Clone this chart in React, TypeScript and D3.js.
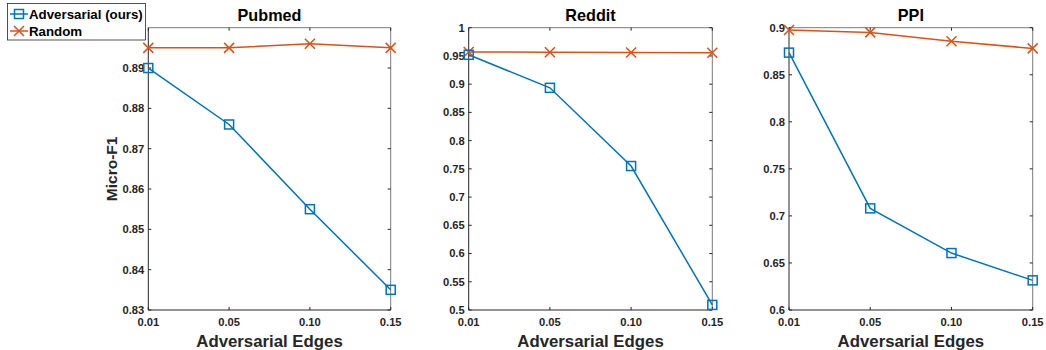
import React from "react";
import * as d3 from "d3";

const categories = ["0.01", "0.05", "0.10", "0.15"];
const seriesNames = ["Adversarial (ours)", "Random"];

const pubmedAdv = [0.89, 0.876, 0.855, 0.835];
const pubmedRand = [0.895, 0.895, 0.896, 0.895];
const pubmedTicks = [0.83, 0.84, 0.85, 0.86, 0.87, 0.88, 0.89];
const pubmedTickLabels = ["0.83", "0.84", "0.85", "0.86", "0.87", "0.88", "0.89"];

const redditAdv = [0.952, 0.8935, 0.755, 0.509];
const redditRand = [0.957, 0.9565, 0.956, 0.9555];
const redditTicks = [0.5, 0.55, 0.6, 0.65, 0.7, 0.75, 0.8, 0.85, 0.9, 0.95, 1];
const redditTickLabels = ["0.5", "0.55", "0.6", "0.65", "0.7", "0.75", "0.8", "0.85", "0.9", "0.95", "1"];

const ppiAdv = [0.8735, 0.708, 0.6605, 0.6315];
const ppiRand = [0.8975, 0.895, 0.8855, 0.878];
const ppiTicks = [0.6, 0.65, 0.7, 0.75, 0.8, 0.85, 0.9];
const ppiTickLabels = ["0.6", "0.65", "0.7", "0.75", "0.8", "0.85", "0.9"];

const BLUE = "#0072BD";
const ORANGE = "#D95319";
const AX = "#262626";
const FONT = "'Liberation Sans', Arial, Helvetica, sans-serif";

type Panel = {
  title: string;
  left: number;
  right: number;
  domain: [number, number];
  ticks: number[];
  tickLabels: string[];
  adv: number[];
  rand: number[];
  ylabel?: string;
};

const TOP = 27.7;
const BOTTOM = 310;

const panels: Panel[] = [
  { title: "Pubmed", left: 148.3, right: 390.7, domain: [0.83, 0.9], ticks: pubmedTicks, tickLabels: pubmedTickLabels, adv: pubmedAdv, rand: pubmedRand, ylabel: "Micro-F1" },
  { title: "Reddit", left: 468.7, right: 712.3, domain: [0.5, 1], ticks: redditTicks, tickLabels: redditTickLabels, adv: redditAdv, rand: redditRand },
  { title: "PPI", left: 789, right: 1032.7, domain: [0.6, 0.9], ticks: ppiTicks, tickLabels: ppiTickLabels, adv: ppiAdv, rand: ppiRand },
];

function Square({ x, y }: { x: number; y: number }) {
  const s = 9;
  return <rect x={x - s / 2} y={y - s / 2} width={s} height={s} fill="none" stroke={BLUE} strokeWidth={1.5} />;
}

function Cross({ x, y }: { x: number; y: number }) {
  const s = 5;
  return (
    <path d={`M${x - s},${y - s}L${x + s},${y + s}M${x - s},${y + s}L${x + s},${y - s}`} stroke={ORANGE} strokeWidth={1.5} fill="none" />
  );
}

function PanelView({ p }: { p: Panel }) {
  const x = d3.scalePoint<string>().domain(categories).range([p.left, p.right]);
  const y = d3.scaleLinear().domain(p.domain).range([BOTTOM, TOP]);
  const line = d3
    .line<number>()
    .x((_, i) => x(categories[i]) as number)
    .y((d) => y(d));
  const tl = 3;
  const cx = (p.left + p.right) / 2;
  return (
    <g>
      <rect x={p.left} y={TOP} width={p.right - p.left} height={BOTTOM - TOP} fill="#fff" />
      <line x1={p.left} x2={p.right} y1={TOP} y2={TOP} stroke="#7a7a7a" strokeWidth={1} />
      <line x1={p.right} x2={p.right} y1={TOP} y2={BOTTOM} stroke="#7a7a7a" strokeWidth={1} />
      <line x1={p.left} x2={p.right} y1={BOTTOM} y2={BOTTOM} stroke={AX} strokeWidth={1} />
      <line x1={p.left} x2={p.left} y1={TOP} y2={BOTTOM} stroke={AX} strokeWidth={1} />
      {p.ticks.map((t, i) => (
        <g key={"y" + i}>
          <line x1={p.left} x2={p.left + tl} y1={y(t)} y2={y(t)} stroke={AX} />
          <line x1={p.right} x2={p.right - tl} y1={y(t)} y2={y(t)} stroke={AX} />
          <text x={p.left - 4} y={y(t)} dy="0.35em" textAnchor="end" fontFamily={FONT} fontWeight="bold" fontSize={11.2} fill={AX}>
            {p.tickLabels[i]}
          </text>
        </g>
      ))}
      {categories.map((c) => (
        <g key={"x" + c}>
          <line x1={x(c)} x2={x(c)} y1={BOTTOM} y2={BOTTOM - tl} stroke={AX} />
          <line x1={x(c)} x2={x(c)} y1={TOP} y2={TOP + tl} stroke={AX} />
          <text x={x(c)} y={326} textAnchor="middle" fontFamily={FONT} fontWeight="bold" fontSize={11.2} fill={AX}>
            {c}
          </text>
        </g>
      ))}
      <text x={cx} y={20.5} textAnchor="middle" fontFamily={FONT} fontWeight="bold" fontSize={16.2} fill="#000">
        {p.title}
      </text>
      <text x={cx} y={346.5} textAnchor="middle" fontFamily={FONT} fontWeight="bold" fontSize={16.8} fill={AX}>
        Adversarial Edges
      </text>
      {p.ylabel && (
        <text transform={`translate(${p.left - 31},${(TOP + BOTTOM) / 2}) rotate(-90)`} textAnchor="middle" fontFamily={FONT} fontWeight="bold" fontSize={15.5} fill={AX}>
          {p.ylabel}
        </text>
      )}
      <path d={line(p.rand) || ""} fill="none" stroke={ORANGE} strokeWidth={1.5} />
      <path d={line(p.adv) || ""} fill="none" stroke={BLUE} strokeWidth={1.5} />
      {p.rand.map((v, i) => (
        <Cross key={"r" + i} x={x(categories[i]) as number} y={y(v)} />
      ))}
      {p.adv.map((v, i) => (
        <Square key={"a" + i} x={x(categories[i]) as number} y={y(v)} />
      ))}
    </g>
  );
}

export default function App() {
  return (
    <svg width={1046} height={350} style={{ position: "absolute", left: 0, top: 0, background: "#fff" }}>
      <rect x={0} y={0} width={1046} height={350} fill="#fff" />
      {panels.map((p) => (
        <PanelView key={p.title} p={p} />
      ))}
      <g>
        <rect x={7.5} y={3.5} width={138} height={36.5} fill="#fff" stroke={AX} strokeWidth={0.8} />
        <line x1={10} x2={28} y1={14} y2={14} stroke={BLUE} strokeWidth={1.5} />
        <Square x={19} y={14} />
        <text x={29} y={14} dy="0.35em" fontFamily={FONT} fontWeight="bold" fontSize={13.3} fill="#000">
          {seriesNames[0]}
        </text>
        <line x1={10} x2={28} y1={31} y2={31} stroke={ORANGE} strokeWidth={1.5} />
        <Cross x={19} y={31} />
        <text x={29} y={31} dy="0.35em" fontFamily={FONT} fontWeight="bold" fontSize={13.3} fill="#000">
          {seriesNames[1]}
        </text>
      </g>
    </svg>
  );
}
